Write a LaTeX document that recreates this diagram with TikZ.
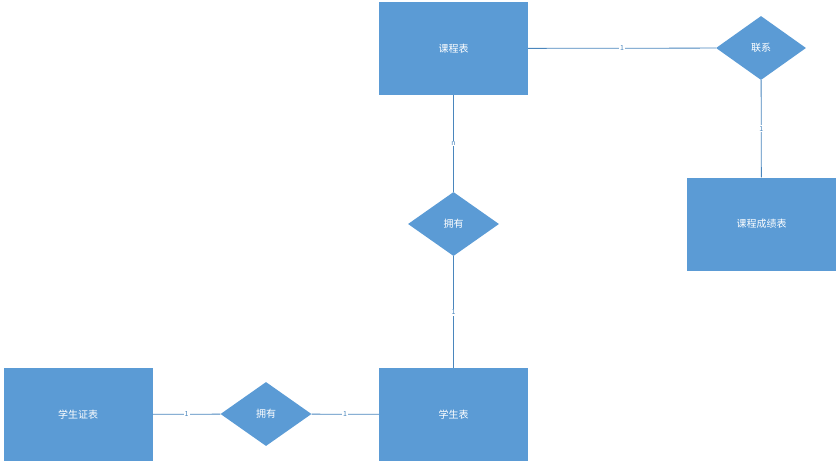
\documentclass[tikz,border=0pt]{standalone}
\usepackage{fontspec}
\setmainfont{Noto Sans CJK SC}
\usetikzlibrary{shapes.geometric}
\definecolor{fillb}{HTML}{5B9BD5}
\definecolor{lineb}{HTML}{4A86BD}
\begin{document}
\begin{tikzpicture}[x=1pt,y=-1pt,
  ent/.style={rectangle,fill=fillb,minimum width=149pt,minimum height=93pt,inner sep=0pt,text=white,font=\fontsize{10}{12}\selectfont},
  rel/.style={diamond,fill=fillb,minimum width=91pt,minimum height=64pt,inner sep=0pt,aspect=1.4,text=white,font=\fontsize{10}{12}\selectfont},
  conn/.style={draw=lineb,line width=0.8pt},
  lbl/.style={fill=white,inner sep=1pt,text=lineb,font=\fontsize{7}{8}\selectfont}]
\useasboundingbox (0,0) rectangle (840,463);
\node[ent] (kc) at (453.5,48.5) {课程表};
\node[ent] (cj) at (761.5,224) {课程成绩表};
\node[ent] (xz) at (78,414.5) {学生证表};
\node[ent] (xs) at (453.5,414.5) {学生表};
\node[rel,minimum width=90pt] (lx) at (761,48) {联系};
\node[rel] (yy1) at (453.5,224) {拥有};
\node[rel] (yy2) at (266,414) {拥有};
\draw[conn] (kc) -- node[lbl]{1} (lx);
\draw[conn] (lx) -- node[lbl]{1} (cj);
\draw[conn] (kc) -- node[lbl]{n} (yy1);
\draw[conn] (yy1) -- node[lbl]{1} (xs);
\draw[conn] (xz) -- node[lbl]{1} (yy2);
\draw[conn] (yy2) -- node[lbl]{1} (xs);
\end{tikzpicture}
\end{document}
